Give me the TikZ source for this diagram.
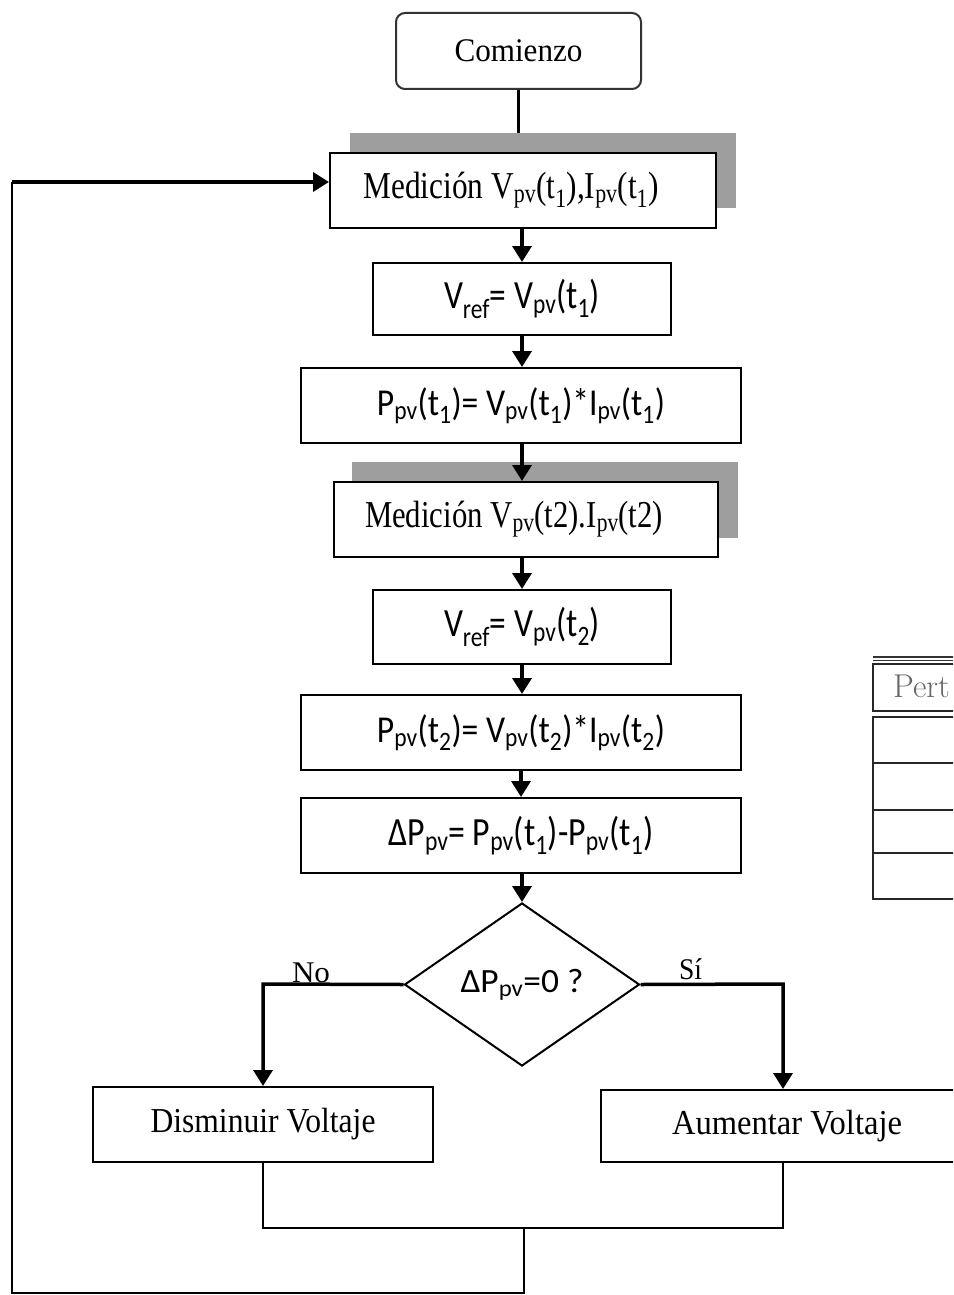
\documentclass[tikz,border=0pt]{standalone}
\usepackage{fontspec}
\setmainfont{Liberation Serif}
\newfontfamily\calib{Carlito}
\newfontfamily\lmr{Latin Modern Roman}
\usetikzlibrary{arrows.meta,shapes.geometric}
% scale a text horizontally to a given width, keeping its height
\newcommand\fw[2]{\resizebox{#1pt}{\height}{#2}}
\newcommand\sub[1]{\textsubscript{#1}}

\begin{document}
\begin{tikzpicture}[x=1pt,y=-1pt,
  box/.style={draw=black, line width=2pt, fill=white, rectangle, inner sep=0pt},
  roundbox/.style={box, draw=black!80, rounded corners=9pt},
  shadebox/.style={rectangle, fill=black!38, draw=none, inner sep=0pt},
  decision/.style={diamond, draw=black, line width=2pt, fill=white, inner sep=0pt},
  conn/.style={line width=3.5pt},
  arr/.style={line width=3.5pt, -{Triangle[width=19pt,length=16pt]}},
  thinline/.style={line width=1.8pt},
  lbl/.style={anchor=base, inner sep=0pt},
  serif/.style={font=\fontsize{#1}{#1}\selectfont},
  sans/.style={font=\calib\fontsize{#1}{#1}\selectfont}
]
\useasboundingbox (0,0) rectangle (953,1295);
\clip (0,0) rectangle (953,1295);

% start
\node[roundbox, minimum width=245pt, minimum height=76pt, serif=33] (com) at (518.5,51)
  {\fw{128}{Comienzo}};

% first measurement, with its shadow
\node[shadebox, minimum width=386pt, minimum height=75pt] (s1) at (543,170.5) {};
\node[box, minimum width=386pt, minimum height=75pt, serif=38] (m1) at (523,190.5)
  {\hspace*{-24pt}\fw{295}{Medición V\sub{pv}(t\sub{1}),I\sub{pv}(t\sub{1})}};

\node[box, minimum width=298pt, minimum height=72pt, sans=40] (v1) at (522,299)
  {\fw{156}{V\sub{ref}= V\sub{pv}(t\sub{1})}};
\node[box, minimum width=440pt, minimum height=75pt, sans=38] (p1) at (521,405.5)
  {\fw{288}{P\sub{pv}(t\sub{1})= V\sub{pv}(t\sub{1})*I\sub{pv}(t\sub{1})}};

% second measurement, with its shadow
\node[shadebox, minimum width=386pt, minimum height=76pt] (s2) at (545,500) {};
\node[box, minimum width=384pt, minimum height=75pt, serif=38] (m2) at (526,519.5)
  {\hspace*{-24pt}\fw{298}{Medición V\sub{pv}(t2).I\sub{pv}(t2)}};

\node[box, minimum width=298pt, minimum height=74pt, sans=40] (v2) at (522,627)
  {\fw{156}{V\sub{ref}= V\sub{pv}(t\sub{2})}};
\node[box, minimum width=440pt, minimum height=75pt, sans=38] (p2) at (521,732.5)
  {\fw{288}{P\sub{pv}(t\sub{2})= V\sub{pv}(t\sub{2})*I\sub{pv}(t\sub{2})}};
\node[box, minimum width=440pt, minimum height=75pt, sans=40] (dp) at (521,835.5)
  {\fw{265}{ΔP\sub{pv}= P\sub{pv}(t\sub{1})-P\sub{pv}(t\sub{1})}};

% decision
\node[decision, minimum width=235pt, minimum height=163pt, sans=34] (dec) at (522,984.5)
  {\fw{123}{ΔP\sub{pv}=0 ?}};

% actions
\node[box, minimum width=340pt, minimum height=75pt, serif=35] (dis) at (263,1124.5)
  {\fw{225}{Disminuir Voltaje}};
\node[box, minimum width=372pt, minimum height=72pt, serif=35] (aum) at (787,1126)
  {\fw{230}{Aumentar Voltaje}};

% branch labels
\node[lbl, serif=30] (no) at (311,982) {\fw{38}{No}};
\node[lbl, serif=30] (si) at (690.5,979) {\fw{23}{Sí}};

% corner and junction points
\coordinate (lc) at (263,984);
\coordinate (rc) at (783,984);
\coordinate (j) at (524,1228);
\coordinate (lp) at (12,182);
\coordinate (lb) at (12,1293);

% main flow
\draw[conn] (com.south) -- (com.south |- s1.north);
\draw[arr] (v1.north |- m1.south) -- (v1.north);
\draw[arr] (v1.south) -- (v1.south |- p1.north);
\draw[arr] (p1.south -| 522,0) -- (m2.north -| 522,0);
\draw[arr] (v2.north |- m2.south) -- (v2.north);
\draw[arr] (v2.south) -- (v2.south |- p2.north);
\draw[arr] (p2.south) -- (dp.north);
\draw[arr] (dp.south -| dec.north) -- (dec.north);

% branches
\draw[arr] (dec.west) -- (lc) -- (lc |- dis.north);
\draw[arr] (dec.east) -- (rc) -- (rc |- aum.north);

% merge and loop back
\draw[thinline] (dis.south -| lc) |- (j);
\draw[thinline] (aum.south -| rc) |- (j);
\draw[thinline] (j) -- (j |- lb) -- (lb) -- (lp);
\draw[arr] (lp) -- (lp -| m1.west);

% table fragment at the right edge
\draw[line width=1.2pt, black!80] (873,657) -- (960,657);
\draw[line width=1.2pt, black!80] (873,660.5) -- (960,660.5);
\draw[line width=1.6pt, black!85] (873,664) rectangle (960,711);
\draw[line width=1.6pt, black!85] (873,717) rectangle (960,899);
\draw[line width=1.6pt, black!85] (873,763) -- (960,763);
\draw[line width=1.6pt, black!85] (873,810) -- (960,810);
\draw[line width=1.6pt, black!85] (873,853) -- (960,853);
\node[anchor=base west, inner sep=0pt, text=black!60, font=\lmr\fontsize{33}{33}\selectfont] (pert) at (893,697) {Pert};
\end{tikzpicture}
\end{document}
